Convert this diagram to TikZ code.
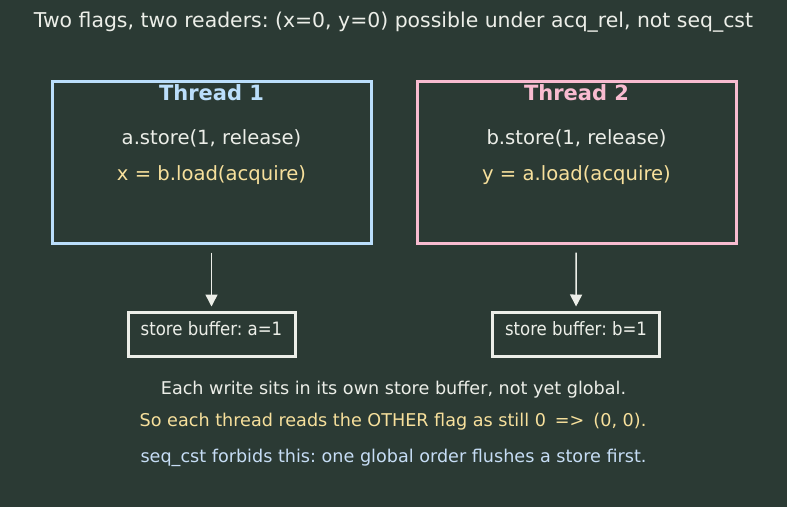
\documentclass[tikz,border=0pt]{standalone}
\usepackage{fontspec}
\setmainfont{DejaVu Sans}
\newfontfamily\condfont{DejaVu Sans Condensed}
\usetikzlibrary{positioning,arrows.meta}
\frenchspacing
\definecolor{bg}{HTML}{2B3A34}
\definecolor{ink}{HTML}{ECEEE8}
\definecolor{one edge}{HTML}{BBDEFB}
\definecolor{two edge}{HTML}{F8BBD0}
\definecolor{loadcol}{HTML}{F7E09C}
\definecolor{notecol}{HTML}{C6DDF5}
\tikzset{threadbox/.style={draw, line width=3pt, minimum width=319pt, minimum height=162pt, inner sep=0pt},
	bufbox/.style={draw=ink, line width=3pt, minimum width=167pt, minimum height=44pt, inner sep=0pt},
	label/.style={text=ink, font=\fontsize{19.6}{22}\selectfont},
	note/.style={text=ink, font=\fontsize{17.6}{20}\selectfont},
	flow/.style={draw=ink, line width=1.5pt, -{Triangle[length=12pt,width=12pt]}}}

\begin{document}
\begin{tikzpicture}[x=1pt,y=-1pt]
		\fill[bg] (0,0) rectangle (787,507);
		\useasboundingbox (0,0) rectangle (787,507);
		\node[label, font=\fontsize{20.4}{23}\selectfont] (title) at (393.5,22) {Two flags, two readers: (x=0, y=0) possible under acq\_rel, not seq\_cst};
		
		\node[threadbox, draw=one edge] (t1) at (211.5,162) {};
		\node[threadbox, draw=two edge] (t2) at (576.5,162) {};
		\node[font=\bfseries\fontsize{21}{23}\selectfont, text=one edge] (h1) at (211.5,93) {Thread 1};
		\node[font=\bfseries\fontsize{21}{23}\selectfont, text=two edge] (h2) at (576.5,93) {Thread 2};
		\node[label] (s1) at (211.5,138) {a.store(1, release)};
		\node[label] (s2) at (576.5,138) {b.store(1, release)};
		\node[label, text=loadcol] (l1) at (211.5,175) {x = b.load(acquire)};
		\node[label, text=loadcol] (l2) at (576.5,175) {y = a.load(acquire)};
		
		\node[bufbox] (b1) at (211.5,334) {};
		\node[bufbox] (b2) at (576,334) {};
		\node[text=ink, font=\condfont\fontsize{18.4}{20}\selectfont] (bt1) at (211.5,329) {store buffer: a=1};
		\node[text=ink, font=\condfont\fontsize{18.4}{20}\selectfont] (bt2) at (576,329) {store buffer: b=1};
		\draw[flow, shorten <=8pt, shorten >=4pt] (t1) -- (b1);
		\draw[flow, shorten <=8pt, shorten >=4pt] (t2) -- (b2);
		
		\node[note] (n1) at (393.5,390) {Each write sits in its own store buffer, not yet global.};
		\node[note, text=loadcol] (n2) at (393,422) {So each thread reads the OTHER flag as still 0\hspace{9pt}=>\hspace{9pt}(0, 0).};
		\node[note, text=notecol] (n3) at (393.5,458) {seq\_cst forbids this: one global order flushes a store first.};
\end{tikzpicture}
\end{document}
